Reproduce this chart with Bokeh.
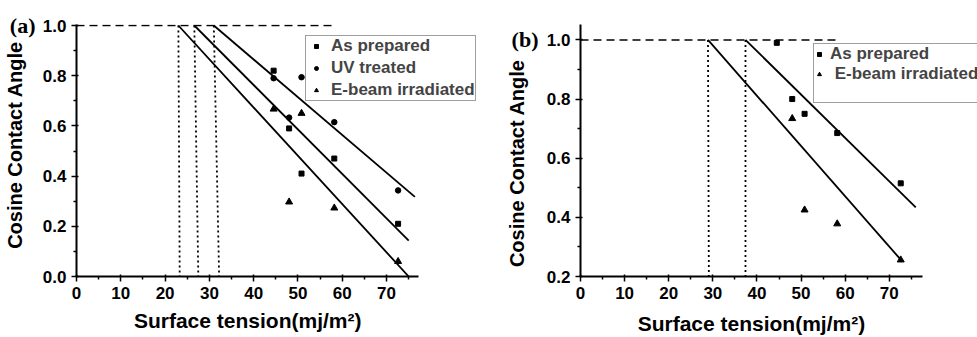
from bokeh.plotting import figure
from bokeh.layouts import row
from bokeh.models import (Legend, LegendItem, FixedTicker, Range1d, ColumnDataSource,
                          LinearAxis, NumeralTickFormatter)
from bokeh.embed import file_html
from bokeh.resources import INLINE

FONT = "Liberation Sans"
SERIF = "Liberation Serif"

# ---- data ----
surface_tension = [44.5, 48.0, 50.8, 58.2, 72.6]

a_as_prepared = [0.82, 0.59, 0.41, 0.47, 0.21]
a_uv_treated = [0.79, 0.633, 0.794, 0.615, 0.343]
a_ebeam = [0.667, 0.297, 0.65, 0.273, 0.06]

b_as_prepared = [0.99, 0.80, 0.75, 0.685, 0.515]
b_ebeam_x = [48.0, 50.8, 58.2, 72.6]
b_ebeam = [0.734, 0.425, 0.378, 0.256]

complete_wetting = 1.0
a_crit = [23.0, 26.6, 31.0]
a_crit_base = [23.3, 27.5, 32.2]
a_fit_end_x = [75.0, 75.0, 76.4]
a_fit_end_y = [0.0, 0.143, 0.317]
a_ref_end = 57.7

b_crit = [28.9, 37.4]
b_crit_base = [29.1, 37.4]
b_fit_end_x = [73.0, 76.0]
b_fit_end_y = [0.25, 0.434]
b_ref_end = 57.9

x_ticks = [0, 10, 20, 30, 40, 50, 60, 70]
x_minor = [5, 15, 25, 35, 45, 55, 65, 75]
a_y_ticks = [0.0, 0.2, 0.4, 0.6, 0.8, 1.0]
a_y_minor = [0.1, 0.3, 0.5, 0.7, 0.9]
b_y_ticks = [0.2, 0.4, 0.6, 0.8, 1.0]
b_y_minor = [0.3, 0.5, 0.7, 0.9]

x_label = "Surface tension(mj/m\u00b2)"
y_label = "Cosine Contact Angle"


def bare_axis(tick, text, font, size, standoff, orientation="horizontal"):
    return LinearAxis(ticker=FixedTicker(ticks=[tick], minor_ticks=[]),
                      major_label_overrides={tick: text},
                      axis_line_color=None, major_tick_line_color=None, minor_tick_line_color=None,
                      major_tick_in=0, major_tick_out=0, major_label_standoff=standoff,
                      major_label_orientation=orientation,
                      major_label_text_font=font, major_label_text_font_style="bold",
                      major_label_text_font_size=size, major_label_text_color="black")


def make_fig(width, x_bound, x_end, y0, y1, yt, ym, panel_tag, tag_standoff,
             y_title_at, x_title_standoff):
    p = figure(width=width, height=337, x_range=Range1d(0, x_end), y_range=Range1d(y0, y1),
               output_backend="svg", toolbar_location=None,
               min_border_left=76, min_border_right=0, min_border_top=24, min_border_bottom=60)
    p.outline_line_color = None
    p.grid.visible = False
    p.background_fill_color = "white"
    p.border_fill_color = "white"
    p.xaxis.ticker = FixedTicker(ticks=x_ticks, minor_ticks=x_minor)
    p.xaxis.bounds = (0, x_bound)
    p.yaxis.ticker = FixedTicker(ticks=yt, minor_ticks=ym)
    p.yaxis.formatter = NumeralTickFormatter(format="0.0")
    for ax in (p.xaxis, p.yaxis):
        ax.axis_line_width = 2
        ax.axis_line_color = "black"
        ax.major_tick_line_width = 1.5
        ax.minor_tick_line_width = 1.5
        ax.major_tick_in = 2
        ax.major_tick_out = 5
        ax.minor_tick_in = 0
        ax.minor_tick_out = 3
        ax.major_label_text_font = FONT
        ax.major_label_text_font_style = "bold"
        ax.major_label_text_font_size = "17px"
        ax.major_label_text_color = "black"
        ax.major_label_standoff = 5
        ax.axis_label = None

    # panel tag beside the 1.0 tick, then the two axis titles centred where the original has them
    p.add_layout(bare_axis(complete_wetting, panel_tag, SERIF, "22px", tag_standoff), "left")
    p.add_layout(bare_axis(y_title_at, y_label, FONT, "20px", -20, "parallel"), "left")
    p.add_layout(bare_axis(x_bound / 2, x_label, FONT, "21px", x_title_standoff), "below")
    return p


def add_lines(p, crit, crit_base, end_x, end_y, ref_end, y_bottom):
    n = len(crit)
    fits = ColumnDataSource(dict(x0=crit, y0=[complete_wetting] * n, x1=end_x, y1=end_y))
    p.segment("x0", "y0", "x1", "y1", source=fits, line_color="black", line_width=1.8)
    drops = ColumnDataSource(dict(x0=crit, y0=[complete_wetting] * n, x1=crit_base, y1=[y_bottom] * n))
    p.segment("x0", "y0", "x1", "y1", source=drops, line_color="black", line_width=1.8, line_dash="2 3")
    p.segment(x0=[0], y0=[complete_wetting], x1=[ref_end], y1=[complete_wetting],
              line_color="black", line_width=1.5, line_dash="8 5")


def legend(items, loc, gw, standoff, spacing):
    return Legend(items=items, location=loc, padding=0, margin=0, spacing=spacing,
                  glyph_width=gw, glyph_height=10, label_height=18, label_standoff=standoff,
                  label_text_font=FONT, label_text_font_style="bold", label_text_font_size="17px",
                  border_line_color="#404040", border_line_width=1, background_fill_alpha=1.0)


# ---- panel (a) ----
pa = make_fig(503, 77.3, 96.4, 0.0, 1.004, a_y_ticks, a_y_minor, "(a)", 4, 0.524, 7)
add_lines(pa, a_crit, a_crit_base, a_fit_end_x, a_fit_end_y, a_ref_end, 0.0)
ra1 = pa.scatter(surface_tension, a_as_prepared, marker="square", size=5, color="black")
ra2 = pa.scatter(surface_tension, a_uv_treated, marker="circle", size=5.5, color="black")
ra3 = pa.scatter(surface_tension, a_ebeam, marker="triangle", size=7, color="black")
pa.add_layout(legend([LegendItem(label="As prepared", renderers=[ra1]),
                      LegendItem(label="UV treated", renderers=[ra2]),
                      LegendItem(label="E-beam irradiated", renderers=[ra3])],
                     (229, 175), 20, 5, 2))

# ---- panel (b) ----
pb = make_fig(474, 77.5, 90.0, 0.2, 1.052, b_y_ticks, b_y_minor, "(b)", 5, 0.583, 10)
add_lines(pb, b_crit, b_crit_base, b_fit_end_x, b_fit_end_y, b_ref_end, 0.2)
rb1 = pb.scatter(surface_tension, b_as_prepared, marker="square", size=5, color="black")
rb2 = pb.scatter(b_ebeam_x, b_ebeam, marker="triangle", size=7, color="black")
rb_blank = pb.scatter([], [], marker="square", size=5, alpha=0.0)
pb.add_layout(legend([LegendItem(label="As prepared", renderers=[rb1]),
                      LegendItem(label=" E-beam irradiated", renderers=[rb2]),
                      LegendItem(label=" ", renderers=[rb_blank])],
                     (233, 173), 10, 6, 0))

layout = row(pa, pb)
open("out.html", "w").write(file_html(layout, INLINE))
